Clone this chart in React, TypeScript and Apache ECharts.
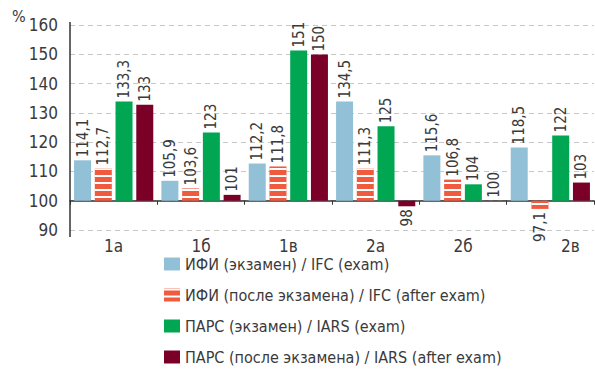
import React, { useEffect, useRef } from "react";
import * as echarts from "echarts";

const categories = ["1а", "1б", "1в", "2а", "2б", "2в"];
const seriesNames = [
  "ИФИ (экзамен) / IFC (exam)",
  "ИФИ (после экзамена) / IFC (after exam)",
  "ПАРС (экзамен) / IARS (exam)",
  "ПАРС (после экзамена) / IARS (after exam)",
];
// bar heights as drawn (%)
const ifcExam = [113.8, 106.8, 112.7, 133.9, 115.5, 118.2];
const ifcAfter = [111.0, 104.2, 111.7, 111.0, 107.2, 97.2];
const iarsExam = [133.9, 123.3, 151.3, 125.4, 105.6, 122.3];
const iarsAfter = [132.8, 102.0, 149.9, 98.1, 100.0, 106.2];
// value labels as printed
const ifcExamLabels = ["114,1", "105,9", "112,2", "134,5", "115,6", "118,5"];
const ifcAfterLabels = ["112,7", "103,6", "111,8", "111,3", "106,8", "97,1"];
const iarsExamLabels = ["133,3", "123", "151", "125", "104", "122"];
const iarsAfterLabels = ["133", "101", "150", "98", "100", "103"];
const yTicks = { min: 90, max: 160, step: 10 };
const BASE = 100;

const colors = ["#92c0d7", "#f05a3f", "#00a651", "#7a0028"];
const FONT = "'Liberation Sans Narrow', 'DejaVu Sans Condensed', 'Roboto', sans-serif";
const TXT = "#3a3a3a";

export default function App() {
  const ref = useRef<HTMLDivElement>(null);
  useEffect(() => {
    document.body.style.margin = "0";
    if (!ref.current) return;
    const chart = echarts.init(ref.current, null, { renderer: "svg" });
    const values = [ifcExam, ifcAfter, iarsExam, iarsAfter];
    const labels = [ifcExamLabels, ifcAfterLabels, iarsExamLabels, iarsAfterLabels];
    const series = values.map((arr, si) => ({
      type: "bar",
      name: seriesNames[si],
      barWidth: 17,
      barGap: "22%",
      itemStyle: {
        color: colors[si],
        decal:
          si === 1
            ? {
                symbol: "rect",
                symbolSize: 1,
                dashArrayX: [1, 0],
                dashArrayY: [2, 5],
                color: "#ffffff",
                rotation: 0,
              }
            : "none",
      },
      label: {
        show: true,
        position: "top",
        rotate: 90,
        align: "left",
        verticalAlign: "middle",
        distance: 3,
        fontFamily: FONT,
        fontSize: 15,
        color: TXT,
        formatter: (p: any) => labels[si][p.dataIndex],
      },
      data: arr.map((v) => {
        const d = v - BASE;
        if (d < 0) {
          return {
            value: d,
            label: { position: "bottom", align: "right" },
          };
        }
        return { value: d };
      }),
    }));
    chart.setOption({
      animation: false,
      textStyle: { fontFamily: FONT },
      grid: { left: 70, right: 1, top: 25, bottom: 140, containLabel: false },
      graphic: [
        {
          type: "text",
          left: 12,
          top: 8,
          style: { text: "%", font: `16px ${FONT}`, fill: TXT },
        },
        {
          type: "line",
          shape: { x1: 70, y1: 22, x2: 70, y2: 237 },
          style: { stroke: "#333", lineWidth: 1.5 },
          z: 10,
        },
      ],
      legend: {
        orient: "vertical",
        left: 164,
        top: 255,
        padding: 0,
        itemWidth: 16,
        itemHeight: 13,
        itemGap: 13,
        icon: "rect",
        textStyle: { fontFamily: FONT, fontSize: 16, lineHeight: 18, color: TXT },
        data: seriesNames,
      },
      xAxis: {
        type: "category",
        data: categories,
        axisLine: { onZero: true, lineStyle: { color: "#333", width: 1.5 } },
        axisTick: { show: true, length: 4, lineStyle: { color: "#333" } },
        axisLabel: {
          interval: 0,
          fontFamily: FONT,
          fontSize: 17,
          color: TXT,
          margin: 7,
          formatter: (v: string) => (v === "2в" ? `{shift|${v}}` : v),
          rich: {
            shift: {
              fontFamily: FONT,
              fontSize: 17,
              color: TXT,
              padding: [0, 0, 0, 40],
            },
          },
        },
      },
      yAxis: {
        type: "value",
        min: yTicks.min - BASE,
        max: yTicks.max - BASE,
        interval: yTicks.step,
        axisLine: { show: false },
        axisTick: { show: false },
        axisLabel: {
          fontFamily: FONT,
          fontSize: 17,
          color: TXT,
          margin: 12,
          formatter: (v: number) => String(v + BASE),
        },
        splitLine: {
          show: true,
          lineStyle: { color: "#c8c8c8", type: [5, 4], width: 1.2 },
        },
      },
      series,
    });
    return () => chart.dispose();
  }, []);
  return <div ref={ref} style={{ width: 595, height: 370 }} />;
}
